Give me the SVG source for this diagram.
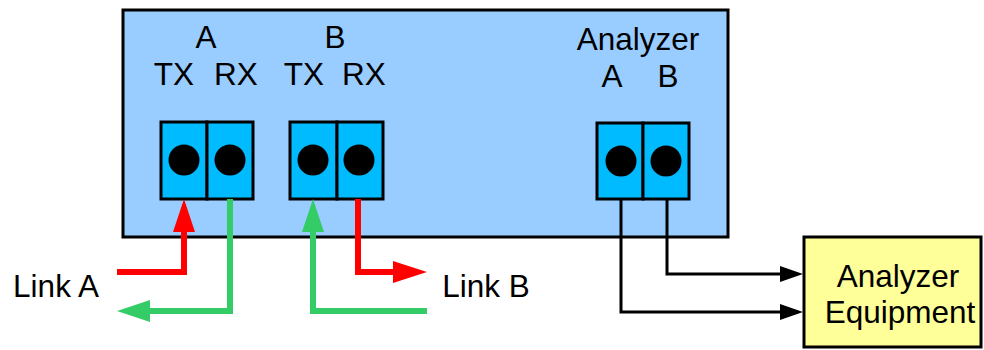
<svg xmlns="http://www.w3.org/2000/svg" width="984" height="350" viewBox="0 0 984 350">
<style>
text{font-family:"Liberation Sans",Arial,sans-serif;font-size:31.5px;fill:#000;text-anchor:middle}
.box{stroke:#000;stroke-width:3}
.port{fill:#00bbff;stroke:#000;stroke-width:3}
.red{fill:none;stroke:#ff0000;stroke-width:6}
.green{fill:none;stroke:#33cc66;stroke-width:6}
.blk{fill:none;stroke:#000;stroke-width:3}
</style>
<rect width="984" height="350" fill="#fff"/>
<g id="device">
<rect class="box" x="123" y="10" width="605" height="227" fill="#99ccff"/>
<text x="206" y="48">A</text>
<text x="174" y="85">TX</text>
<text x="236" y="85">RX</text>
<text x="335" y="48">B</text>
<text x="304" y="85">TX</text>
<text x="364" y="85">RX</text>
<text x="638" y="50">Analyzer</text>
<text x="612" y="87">A</text>
<text x="668" y="87">B</text>
</g>
<g id="portA">
<rect class="port" x="161" y="122" width="46" height="77"/>
<rect class="port" x="207" y="122" width="46" height="77"/>
<circle cx="184" cy="160" r="15.5"/>
<circle cx="230" cy="160" r="15.5"/>
</g>
<g id="portB">
<rect class="port" x="290" y="122" width="47" height="77"/>
<rect class="port" x="337" y="122" width="46" height="77"/>
<circle cx="313" cy="160" r="15.5"/>
<circle cx="359" cy="160" r="15.5"/>
</g>
<g id="portAnalyzer">
<rect class="port" x="597" y="123" width="46" height="76"/>
<rect class="port" x="643" y="123" width="46" height="76"/>
<circle cx="621" cy="161" r="15.5"/>
<circle cx="666" cy="161" r="15.5"/>
</g>
<g id="equipment">
<rect class="box" x="804" y="237" width="177" height="110" fill="#ffff99"/>
<text x="898" y="287">Analyzer</text>
<text x="900" y="323">Equipment</text>
</g>
<g id="linkA"><text x="56" y="297">Link A</text></g>
<g id="linkB"><text x="486" y="297">Link B</text></g>
<g id="connectors">
<polyline class="red" points="117,272 184,272 184,230"/>
<polygon fill="#ff0000" points="184,199 173,232 195,232"/>
<polyline class="green" points="230,199 230,311 148,311"/>
<polygon fill="#33cc66" points="117,311 150,300 150,322"/>
<polyline class="green" points="313,230 313,311 427,311"/>
<polygon fill="#33cc66" points="313,199 302,232 324,232"/>
<polyline class="red" points="358,199 358,272 395,272"/>
<polygon fill="#ff0000" points="427,272 393,261 393,283"/>
<polyline class="blk" points="621,199 621,312 782,312"/>
<polygon points="803,312 780,304 780,320"/>
<polyline class="blk" points="667,199 667,274 782,274"/>
<polygon points="803,274 780,266 780,282"/>
</g>
</svg>
